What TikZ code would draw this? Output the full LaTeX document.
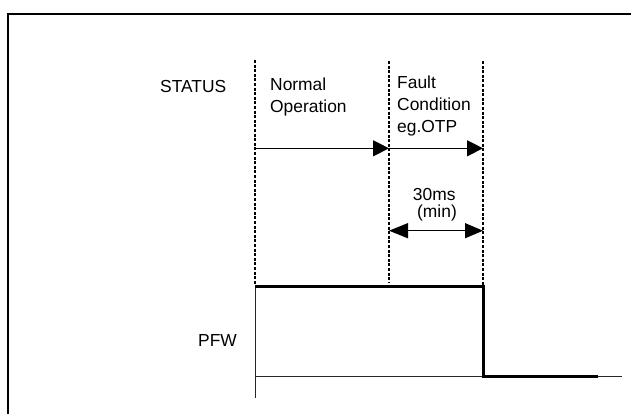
\documentclass[tikz,border=0pt]{standalone}
\usepackage{fontspec}
\setmainfont{Liberation Sans}
\usetikzlibrary{arrows.meta}
\begin{document}
\begin{tikzpicture}[x=1pt,y=-1pt,
  lbl/.style={inner sep=0pt, font=\fontsize{17.4}{22}\selectfont},
  guide/.style={line width=1.1pt, dash pattern=on 3pt off 1.6pt},
  arr/.style={line width=1.3pt, -{Triangle[length=16pt,width=16pt]}},
  dbl/.style={line width=1.3pt, {Triangle[length=19pt,width=15pt]}-{Triangle[length=18pt,width=15pt]}},
  signal/.style={line width=3pt},
  axisline/.style={line width=1pt, black!85},
  frame/.style={line width=2.2pt}]
\useasboundingbox (0,0) rectangle (631,414);
% frame (only top and left edges visible)
\coordinate (fb) at (7.7,420);
\coordinate (fc) at (7.7,14.3);
\coordinate (fr) at (640,14.3);
\draw[frame] (fb) -- (fc) -- (fr);
% guide lines
\coordinate (g1t) at (255,60);
\coordinate (g2t) at (389,61);
\coordinate (g3t) at (483,61);
\coordinate (g1b) at (255,285);
\coordinate (g2b) at (389,283);
\coordinate (g3b) at (483,285);
\draw[guide] (g1t) -- (g1b);
\draw[guide] (g2t) -- (g2b);
\draw[guide] (g3t) -- (g3b);
% axes
\coordinate (axb) at (255,398);
\coordinate (o) at (255,376);
\coordinate (xend) at (622,376);
\draw[axisline] (g1b) -- (axb);
\draw[axisline] (o) -- (xend);
% signal
\coordinate (hi0) at (255,286);
\coordinate (hi1) at (483.5,286);
\coordinate (lo1) at (483.5,376);
\coordinate (lo2) at (598,376);
\draw[signal] (hi0) -- (hi1) -- (lo1) -- (lo2);
% status arrows
\coordinate (a0) at (255,148.3);
\coordinate (a1) at (389,148.3);
\coordinate (a2) at (483,148.3);
\draw[arr] (a0) -- (a1);
\draw[arr] (a1) -- (a2);
\coordinate (d1) at (389,230.7);
\coordinate (d2) at (483,230.7);
\draw[dbl] (d1) -- (d2);
% labels
\node[lbl, anchor=base west] (status) at (160,92.3) {STATUS};
\node[lbl, anchor=north west, align=left] (normal) at (270,77.5) {Normal\\Operation};
\node[lbl, anchor=north west, align=left] (fault) at (397,75.5) {Fault\\Condition\\eg.OTP};
\node[lbl, anchor=base] (dur) at (434.2,200) {30ms};
\node[lbl, anchor=base] (min) at (437,217.5) {(min)};
\node[lbl, anchor=base west] (pfw) at (198,346.5) {PFW};
\end{tikzpicture}
\end{document}
